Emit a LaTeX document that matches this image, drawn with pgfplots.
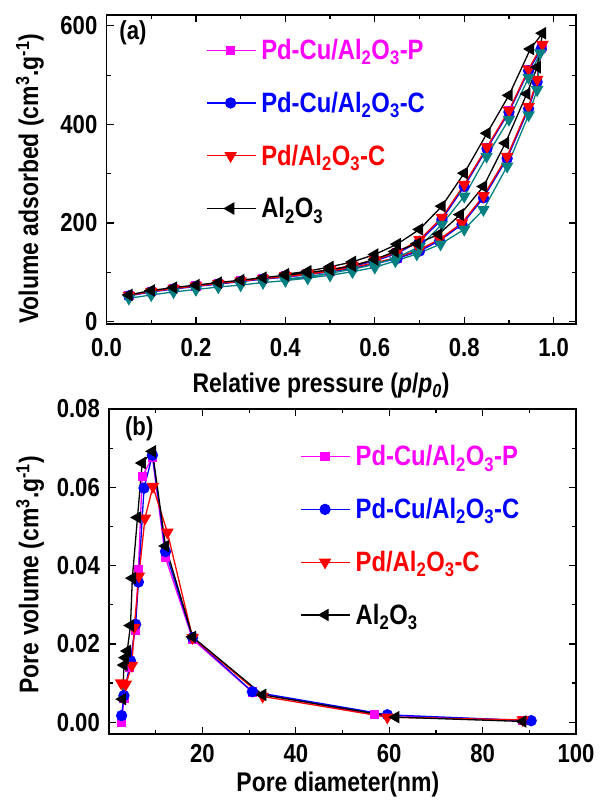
\documentclass[border=0pt]{standalone}
\usepackage{fontspec}
\setmainfont{Liberation Sans}[FakeStretch=0.85]
\usepackage{pgfplots}
\pgfplotsset{compat=1.18}

\definecolor{magc}{RGB}{255,0,255}
\definecolor{bluec}{RGB}{0,0,255}
\definecolor{redc}{RGB}{255,0,0}
\definecolor{tealc}{RGB}{0,128,128}

\newcommand{\lblfont}{\fontsize{27}{30}\selectfont\bfseries}
\newcommand{\legfont}{\fontsize{28}{30}\selectfont\bfseries}

\pgfplotsset{
  panel/.style={
    scale only axis,
    axis line style={line width=1.6pt},
    every tick/.style={black, line width=1.2pt},
    major tick length=7pt, minor tick length=4pt,
    tick align=inside,
    ticklabel style={font=\fontsize{26}{26}\selectfont\bfseries, inner sep=1pt},
    /pgf/number format/assume math mode=true,
    legend style={draw=none, fill=none, font=\legfont,
      row sep=27pt, /tikz/every odd column/.style={column sep=3pt}},
    legend cell align=left,
    legend image code/.code={\draw[mark repeat=2,mark phase=2,##1] plot coordinates {(0pt,0pt)(24pt,0pt)(49pt,0pt)};},
  },
  smag/.style={magc, line width=1.3pt, mark=square*, mark size=4pt, mark options={solid, fill=magc}},
  sblue/.style={bluec, line width=1.3pt, mark=*, mark size=5pt, mark options={solid, fill=bluec}},
  sred/.style={redc, line width=1.3pt, mark=triangle*, mark size=6pt, mark options={solid, fill=redc, rotate=180}},
  steal/.style={tealc, line width=1.3pt, mark=triangle*, mark size=6pt, mark options={solid, fill=tealc, rotate=180}},
  sblack/.style={black, line width=1.3pt, mark=triangle*, mark size=6pt, mark options={solid, fill=black, rotate=90}},
}

\begin{document}
\begin{tikzpicture}
\useasboundingbox (0,0) rectangle (600pt,803pt);

% (a) isotherms
\begin{axis}[panel,
  at={(106.5pt,479pt)}, anchor=south west,
  width=469.5pt, height=309pt,
  xmin=0, xmax=1.05, ymin=-5, ymax=622,
  xtick={0,0.2,...,1.0}, minor xtick={0.1,0.3,...,0.9},
  ytick={0,200,400,600}, minor ytick={100,300,500},
  xticklabel style={yshift=-13pt, /pgf/number format/.cd, fixed, fixed zerofill, precision=1},
  yticklabel style={xshift=-8pt},
  scaled x ticks=false, scaled y ticks=false,
  xlabel={Relative pressure (\textit{p}/\textit{p}\textsubscript{\textit{0}})},
  ylabel={Volume adsorbed (cm\textsuperscript{3}.g\textsuperscript{-1})},
  xlabel style={at={(rel axis cs:0.457,-0.2)}, anchor=center, font=\lblfont},
  ylabel style={at={(rel axis cs:-0.163,0.47)}, anchor=center, rotate=0, font=\lblfont},
  legend style={at={(rel axis cs:0.205,0.935)}, anchor=north west},
]
\addplot[smag] coordinates {(0.05,53)(0.1,61)(0.15,67)(0.2,72)(0.25,77)(0.3,82)(0.35,87)(0.4,91)(0.45,96)(0.5,102)(0.55,109)(0.6,118)(0.65,129)(0.7,144)(0.745,165)(0.795,199)(0.843,253)(0.896,333)(0.944,434)(0.963,489)(0.974,558)(0.944,511)(0.9,427)(0.851,353)(0.8,276)(0.75,209)(0.7,164)(0.65,139)(0.6,124)(0.55,113)(0.5,105)(0.45,98)(0.4,93)};
\addlegendentry{\textcolor{magc}{Pd-Cu/Al\textsubscript{2}O\textsubscript{3}-P}}
\addplot[sblue] coordinates {(0.05,52)(0.1,60)(0.15,66)(0.2,71)(0.25,76)(0.3,81)(0.35,86)(0.4,90)(0.45,95)(0.5,101)(0.55,108)(0.6,117)(0.65,128)(0.7,143)(0.745,164)(0.795,197)(0.843,251)(0.896,331)(0.944,432)(0.963,486)(0.972,553)(0.944,509)(0.9,425)(0.851,351)(0.8,274)(0.75,207)(0.7,163)(0.65,138)(0.6,123)(0.55,112)(0.5,104)(0.45,97)(0.4,92)};
\addlegendentry{\textcolor{bluec}{Pd-Cu/Al\textsubscript{2}O\textsubscript{3}-C}}
\addplot[sred] coordinates {(0.05,53)(0.1,61)(0.15,67)(0.2,72)(0.25,77)(0.3,82)(0.35,87)(0.4,91)(0.45,96)(0.5,102)(0.55,110)(0.6,119)(0.65,130)(0.7,146)(0.745,167)(0.795,200)(0.843,255)(0.896,335)(0.944,436)(0.963,491)(0.975,562)(0.944,512)(0.9,428)(0.851,354)(0.8,278)(0.75,211)(0.7,166)(0.65,140)(0.6,125)(0.55,114)(0.5,105)(0.45,98)(0.4,93)};
\addlegendentry{\textcolor{redc}{Pd/Al\textsubscript{2}O\textsubscript{3}-C}}
\addplot[steal, forget plot] coordinates {(0.05,47)(0.1,54)(0.15,60)(0.2,65)(0.25,70)(0.3,74)(0.35,79)(0.4,83)(0.45,88)(0.5,94)(0.55,101)(0.6,110)(0.646,123)(0.694,137)(0.747,157)(0.8,187)(0.843,227)(0.896,315)(0.944,419)(0.963,470)(0.97,545)(0.944,495)(0.9,410)(0.85,335)(0.8,254)(0.75,197)(0.7,152)(0.65,130)(0.6,116)(0.55,106)(0.5,98)(0.45,91)(0.4,86)};
\addplot[sblack] coordinates {(0.05,54)(0.1,63)(0.15,69)(0.2,74)(0.25,79)(0.3,84)(0.35,89)(0.4,94)(0.45,99)(0.5,105)(0.55,113)(0.6,126)(0.645,142)(0.695,158)(0.743,177)(0.791,217)(0.843,274)(0.892,362)(0.94,462)(0.963,516)(0.975,585)(0.948,553)(0.9,459)(0.851,382)(0.8,301)(0.75,234)(0.7,187)(0.65,157)(0.6,136)(0.55,121)(0.5,111)(0.45,102)(0.4,96)};
\addlegendentry{Al\textsubscript{2}O\textsubscript{3}}
\node[anchor=west, font=\fontsize{26}{26}\selectfont\bfseries] at (rel axis cs:0.02,0.942) {(a)};
\end{axis}

% (b) pore size distribution
\begin{axis}[panel,
  at={(109pt,69pt)}, anchor=south west,
  width=467pt, height=325pt,
  xmin=0, xmax=100, ymin=-0.003, ymax=0.08,
  xtick={20,40,60,80,100}, minor xtick={10,30,50,70,90},
  ytick={0,0.02,0.04,0.06,0.08}, minor ytick={0.01,0.03,0.05,0.07},
  xticklabel style={yshift=-9pt},
  yticklabel style={xshift=-8pt, /pgf/number format/.cd, fixed, fixed zerofill, precision=2},
  scaled x ticks=false, scaled y ticks=false,
  xlabel={Pore diameter(nm)},
  ylabel={Pore volume (cm\textsuperscript{3}.g\textsuperscript{-1})},
  xlabel style={at={(rel axis cs:0.49,-0.155)}, anchor=center, font=\lblfont},
  ylabel style={at={(rel axis cs:-0.169,0.49)}, anchor=center, rotate=0, font=\lblfont},
  legend style={at={(rel axis cs:0.403,0.9)}, anchor=north west},
]
\addplot[smag] coordinates {(2.7,0.0000)(3.2,0.0060)(4.4,0.0140)(5.6,0.0235)(6.3,0.0390)(7.1,0.0627)(9.3,0.0677)(12.1,0.0420)(17.9,0.0212)(30.7,0.0077)(56.8,0.0019)(88.6,0.0004)};
\addlegendentry{\textcolor{magc}{Pd-Cu/Al\textsubscript{2}O\textsubscript{3}-P}}
\addplot[sblue] coordinates {(2.7,0.0017)(3.2,0.0068)(4.6,0.0157)(5.7,0.0250)(6.3,0.0358)(7.5,0.0598)(9.3,0.0682)(12.1,0.0436)(17.9,0.0216)(30.7,0.0078)(59.6,0.0019)(90.4,0.0004)};
\addlegendentry{\textcolor{bluec}{Pd-Cu/Al\textsubscript{2}O\textsubscript{3}-C}}
\addplot[sred] coordinates {(2.6,0.0100)(3.6,0.0097)(4.9,0.0145)(5.4,0.0242)(6.4,0.0373)(7.7,0.0521)(9.4,0.0602)(12.5,0.0485)(17.9,0.0216)(32.9,0.0066)(59.6,0.0013)(88.6,0.0006)};
\addlegendentry{\textcolor{redc}{Pd/Al\textsubscript{2}O\textsubscript{3}-C}}
\addplot[sblack] coordinates {(2.9,0.0059)(3.2,0.0146)(3.5,0.0165)(3.9,0.0182)(4.6,0.0247)(5.0,0.0368)(6.1,0.0523)(7.1,0.0662)(9.3,0.0692)(12.1,0.0450)(17.9,0.0218)(32.9,0.0070)(61.4,0.0013)(88.6,0.0002)};
\addlegendentry{Al\textsubscript{2}O\textsubscript{3}}
\node[anchor=west, font=\fontsize{26}{26}\selectfont\bfseries] at (rel axis cs:0.027,0.94) {(b)};
\end{axis}
\end{tikzpicture}
\end{document}
